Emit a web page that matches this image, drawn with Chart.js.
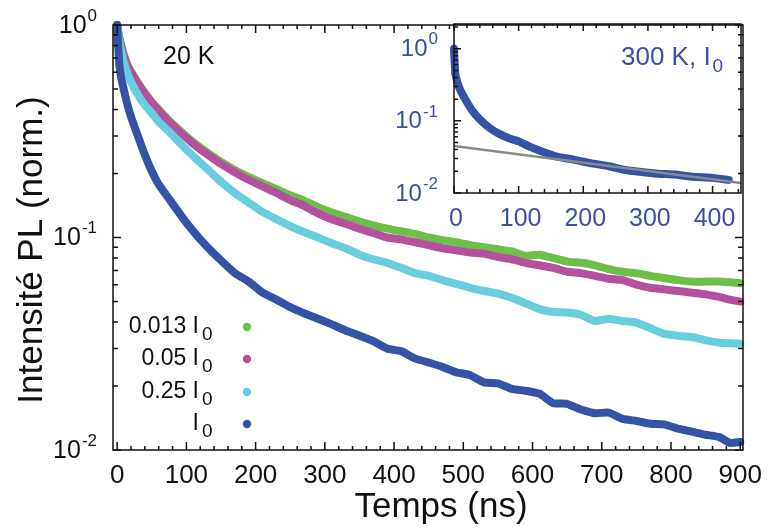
<!DOCTYPE html>
<html><head><meta charset="utf-8">
<script src="https://cdn.jsdelivr.net/npm/chart.js@4/dist/chart.umd.min.js"></script>
<style>
html,body{margin:0;padding:0;background:#fff;}
#wrap{position:relative;width:771px;height:529px;}
#inset{position:absolute;left:380px;top:0;}
</style>
</head><body>
<div id="wrap"><canvas id="main" width="771" height="529"></canvas><canvas id="inset" width="391" height="240"></canvas></div>
<script>
const FONT = '"Liberation Sans", Arial, Helvetica, sans-serif';

// ---- Main panel (20 K) ----
const timeNs = [0, 3, 6, 10, 15, 20, 30, 40, 50, 60, 75, 90, 105, 120, 135, 150, 170, 190, 210, 230, 250, 270, 290, 310, 330, 350, 370, 390, 410, 430, 450, 470, 490, 510, 530, 550, 570, 590, 610, 630, 650, 670, 690, 710, 730, 750, 770, 790, 810, 830, 850, 870, 885, 900];
const val0013 = [1, 0.88, 0.80, 0.72, 0.65, 0.605, 0.535, 0.48, 0.435, 0.40, 0.355, 0.32, 0.29, 0.265, 0.245, 0.227, 0.208, 0.193, 0.180, 0.169, 0.158, 0.149, 0.139, 0.131, 0.125, 0.119, 0.114, 0.110, 0.107, 0.104, 0.100, 0.097, 0.095, 0.092, 0.090, 0.088, 0.086, 0.082, 0.083, 0.080, 0.077, 0.076, 0.074, 0.071, 0.069, 0.068, 0.066, 0.0645, 0.063, 0.062, 0.062, 0.062, 0.0615, 0.061];
const val005 = [1, 0.87, 0.79, 0.71, 0.64, 0.60, 0.53, 0.475, 0.43, 0.395, 0.35, 0.315, 0.285, 0.26, 0.24, 0.222, 0.203, 0.187, 0.174, 0.162, 0.150, 0.141, 0.130, 0.122, 0.116, 0.110, 0.105, 0.100, 0.098, 0.095, 0.092, 0.089, 0.087, 0.085, 0.084, 0.081, 0.079, 0.076, 0.074, 0.072, 0.069, 0.068, 0.066, 0.064, 0.063, 0.060, 0.058, 0.057, 0.056, 0.055, 0.054, 0.0525, 0.051, 0.050];
const val025 = [1, 0.84, 0.75, 0.66, 0.59, 0.54, 0.47, 0.42, 0.385, 0.35, 0.315, 0.28, 0.25, 0.225, 0.203, 0.183, 0.162, 0.146, 0.132, 0.122, 0.113, 0.106, 0.100, 0.094, 0.089, 0.083, 0.079, 0.076, 0.072, 0.068, 0.066, 0.063, 0.0605, 0.058, 0.056, 0.0545, 0.052, 0.049, 0.046, 0.0446, 0.0444, 0.0433, 0.0405, 0.0414, 0.0405, 0.0398, 0.0375, 0.0352, 0.0345, 0.0340, 0.0328, 0.0320, 0.0318, 0.0316];
const valI0 = [1, 0.66, 0.56, 0.49, 0.42, 0.37, 0.30, 0.245, 0.205, 0.178, 0.152, 0.13, 0.112, 0.098, 0.087, 0.078, 0.068, 0.062, 0.055, 0.051, 0.047, 0.044, 0.0415, 0.039, 0.0365, 0.0345, 0.0325, 0.0300, 0.0292, 0.0270, 0.0258, 0.0246, 0.0232, 0.0225, 0.0208, 0.0206, 0.0194, 0.0190, 0.0184, 0.0166, 0.0165, 0.0155, 0.0149, 0.0150, 0.0140, 0.0137, 0.0133, 0.0132, 0.0126, 0.0122, 0.0118, 0.0115, 0.0108, 0.0109];
const seriesLabels = ['0.013', '0.05', '0.25', ''];   // each followed by "I" with subscript 0
const xTickLabels = ['0', '100', '200', '300', '400', '500', '600', '700', '800', '900'];
const yDecades = [0, -1, -2];

// ---- Inset (300 K, I0) ----
const insetTimeNs = [0, 2, 5, 8, 13, 18, 28, 40, 55, 70, 86, 100, 117, 135, 159, 185, 211, 240, 263, 290, 315, 341, 370, 400, 425];
const insetI0 = [1.0, 0.45, 0.35, 0.29, 0.235, 0.195, 0.14, 0.105, 0.08, 0.066, 0.057, 0.052, 0.044, 0.038, 0.032, 0.029, 0.026, 0.0235, 0.021, 0.0195, 0.0185, 0.018, 0.0168, 0.0162, 0.0152];
const fitTimeNs = [0, 444];
const fitValue = [0.045, 0.0138];
const insetXTickLabels = ['0', '100', '200', '300', '400'];
const insetYDecades = [0, -1, -2];

const COLORS = ['#6cbf48', '#b5509e', '#68cede', '#3453a5'];
const INSET_BLUE = '#3a4fa3';

function pts(xs, ys) { return xs.map((x, i) => ({ x: x, y: ys[i] })); }

function drawPow(ctx, rightX, y, exp, baseSize, expSize, color) {
  ctx.fillStyle = color;
  ctx.textBaseline = 'middle';
  ctx.font = expSize + 'px ' + FONT;
  const ew = ctx.measureText(exp).width;
  ctx.textAlign = 'left';
  ctx.fillText(exp, rightX - ew, y - 9);
  ctx.font = baseSize + 'px ' + FONT;
  ctx.textAlign = 'right';
  ctx.fillText('10', rightX - ew - 1, y + 1);
}

const INSET_LEFT_PAGE = 454;

const mainDecor = {
  id: 'mainDecor',
  afterDatasetsDraw(chart) {
    const ctx = chart.ctx, a = chart.chartArea;
    const xs = chart.scales.x, ys = chart.scales.y;
    ctx.save();
    ctx.strokeStyle = '#111';
    ctx.lineWidth = 1.5;
    ctx.strokeRect(a.left, a.top, a.right - a.left, a.bottom - a.top);
    ctx.beginPath();
    for (let v = 0; v <= 900; v += 20) {
      const px = xs.getPixelForValue(v);
      const len = v % 100 === 0 ? 8 : 4;
      ctx.moveTo(px, a.bottom); ctx.lineTo(px, a.bottom - len);
      if (px < INSET_LEFT_PAGE - 2) { ctx.moveTo(px, a.top); ctx.lineTo(px, a.top + len); }
    }
    for (let d = -2; d <= 0; d++) {
      for (let m = 1; m <= 9; m++) {
        const v = m * Math.pow(10, d);
        if (v < 0.01 - 1e-9 || v > 1 + 1e-9) continue;
        const py = ys.getPixelForValue(v);
        const len = m === 1 ? 8 : 5;
        ctx.moveTo(a.left, py); ctx.lineTo(a.left + len, py);
        ctx.moveTo(a.right, py); ctx.lineTo(a.right - len, py);
      }
    }
    ctx.stroke();
    // x tick labels
    ctx.fillStyle = '#111';
    ctx.font = '26px ' + FONT;
    ctx.textAlign = 'center'; ctx.textBaseline = 'middle';
    xTickLabels.forEach(l => ctx.fillText(l, xs.getPixelForValue(Number(l)), 476));
    // y tick labels
    yDecades.forEach(d => drawPow(ctx, 97, ys.getPixelForValue(Math.pow(10, d)), String(d), 25, 17, '#111'));
    // axis titles
    ctx.fillStyle = '#111';
    ctx.font = '35px ' + FONT;
    ctx.textAlign = 'center'; ctx.textBaseline = 'alphabetic';
    ctx.fillText('Temps (ns)', 441, 517);
    ctx.save();
    ctx.translate(42, 250); ctx.rotate(-Math.PI / 2);
    ctx.fillText('Intensité PL (norm.)', 0, 0);
    ctx.restore();
    // panel label
    ctx.font = '25px ' + FONT; ctx.textAlign = 'left';
    ctx.fillText('20 K', 163, 64);
    // legend
    const baselines = [333, 365, 398, 430];
    seriesLabels.forEach((lab, i) => {
      const b = baselines[i];
      ctx.fillStyle = '#111';
      ctx.font = '19px ' + FONT; ctx.textAlign = 'left'; ctx.textBaseline = 'alphabetic';
      ctx.fillText('0', 202, b + 7);
      ctx.font = '23px ' + FONT; ctx.textAlign = 'right';
      ctx.fillText((lab ? lab + ' ' : '') + 'I', 199, b);
      ctx.fillStyle = COLORS[i];
      ctx.beginPath(); ctx.arc(247, b - 6, 4.2, 0, Math.PI * 2); ctx.fill();
    });
    ctx.restore();
  }
};

new Chart(document.getElementById('main'), {
  type: 'line',
  data: {
    datasets: [
      { label: '0.013 I0', data: pts(timeNs, val0013), borderColor: COLORS[0], order: 4 },
      { label: '0.05 I0', data: pts(timeNs, val005), borderColor: COLORS[1], order: 3 },
      { label: '0.25 I0', data: pts(timeNs, val025), borderColor: COLORS[2], order: 2 },
      { label: 'I0', data: pts(timeNs, valI0), borderColor: COLORS[3], order: 1 }
    ].map(ds => Object.assign(ds, { borderWidth: 8, pointRadius: 0, borderJoinStyle: 'round', borderCapStyle: 'round', tension: 0.15, clip: 10 }))
  },
  options: {
    responsive: false, devicePixelRatio: 1, animation: false, events: [],
    layout: { padding: { top: 25, right: 28, left: 0, bottom: 0 } },
    plugins: { legend: { display: false }, tooltip: { enabled: false } },
    scales: {
      x: { type: 'linear', min: -6, max: 904, grid: { display: false }, border: { display: false }, ticks: { display: false }, afterFit: s => { s.height = 79; } },
      y: { type: 'logarithmic', min: 0.01, max: 1, grid: { display: false }, border: { display: false }, ticks: { display: false }, afterFit: s => { s.width = 113; } }
    }
  },
  plugins: [mainDecor]
});

const insetDecor = {
  id: 'insetDecor',
  afterDatasetsDraw(chart) {
    const ctx = chart.ctx, a = chart.chartArea;
    const xs = chart.scales.x, ys = chart.scales.y;
    ctx.save();
    ctx.strokeStyle = '#111';
    ctx.lineWidth = 1.5;
    ctx.strokeRect(a.left, a.top, a.right - a.left, a.bottom - a.top);
    ctx.beginPath();
    for (let v = 0; v <= 440; v += 20) {
      const px = xs.getPixelForValue(v);
      const len = v % 100 === 0 ? 7 : 4;
      ctx.moveTo(px, a.bottom); ctx.lineTo(px, a.bottom - len);
      ctx.moveTo(px, a.top); ctx.lineTo(px, a.top + len);
    }
    for (let d = -2; d <= 0; d++) {
      for (let m = 1; m <= 9; m++) {
        const v = m * Math.pow(10, d);
        if (v > 2.2) continue;
        const py = ys.getPixelForValue(v);
        const len = m === 1 ? 7 : 4;
        ctx.moveTo(a.left, py); ctx.lineTo(a.left + len, py);
      }
    }
    ctx.stroke();
    ctx.fillStyle = INSET_BLUE;
    ctx.font = '25px ' + FONT;
    ctx.textAlign = 'center'; ctx.textBaseline = 'middle';
    insetXTickLabels.forEach(l => ctx.fillText(l, xs.getPixelForValue(Number(l)) + 2, 219));
    insetYDecades.forEach(d => drawPow(ctx, 58, ys.getPixelForValue(Math.pow(10, d)), String(d), 24, 17, INSET_BLUE));
    ctx.fillStyle = INSET_BLUE;
    ctx.textBaseline = 'alphabetic'; ctx.textAlign = 'left';
    ctx.font = '26px ' + FONT;
    const t = '300 K, I';
    ctx.fillText(t, 241, 65);
    const w = ctx.measureText(t).width;
    ctx.font = '19px ' + FONT;
    ctx.fillText('0', 241 + w + 2, 72);
    ctx.restore();
  }
};

new Chart(document.getElementById('inset'), {
  type: 'line',
  data: {
    datasets: [
      { label: '300 K I0', data: pts(insetTimeNs, insetI0), borderColor: COLORS[3], borderWidth: 8, pointRadius: 0, borderJoinStyle: 'round', borderCapStyle: 'round', tension: 0.15, clip: 10, order: 2 },
      { label: 'fit', data: pts(fitTimeNs, fitValue), borderColor: '#8a8a8a', borderWidth: 2.5, pointRadius: 0, clip: 0, order: 1 }
    ]
  },
  options: {
    responsive: false, devicePixelRatio: 1, animation: false, events: [],
    layout: { padding: { top: 24, right: 30, left: 0, bottom: 0 } },
    plugins: { legend: { display: false }, tooltip: { enabled: false } },
    scales: {
      x: { type: 'linear', min: 0, max: 444, grid: { display: false }, border: { display: false }, ticks: { display: false }, afterFit: s => { s.height = 47; } },
      y: { type: 'logarithmic', min: 0.01, max: 2.2, grid: { display: false }, border: { display: false }, ticks: { display: false }, afterFit: s => { s.width = 74; } }
    }
  },
  plugins: [insetDecor]
});
</script>
</body></html>
